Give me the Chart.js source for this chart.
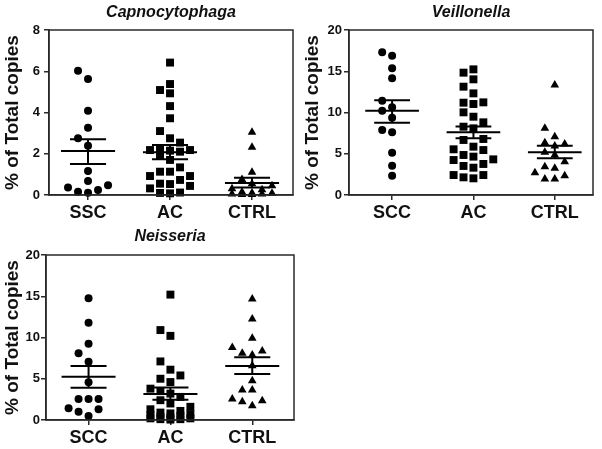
<!DOCTYPE html>
<html><head><meta charset="utf-8">
<script src="https://cdn.jsdelivr.net/npm/chart.js@4.4.1/dist/chart.umd.min.js"></script>
<style>
html,body{margin:0;padding:0;background:#fff;}
body{width:602px;height:449px;position:relative;overflow:hidden;}
canvas{position:absolute;}
</style></head><body>
<canvas id="c1" width="300" height="222" style="left:0;top:0;width:300px;height:222px"></canvas>
<canvas id="c2" width="302" height="222" style="left:300px;top:0;width:302px;height:222px"></canvas>
<canvas id="c3" width="300" height="227" style="left:0;top:222px;width:300px;height:227px"></canvas>
<script>
// ---------- data ----------
const capCats = ["SSC", "AC", "CTRL"];
const veiCats = ["SCC", "AC", "CTRL"];
const neiCats = ["SCC", "AC", "CTRL"];

const capSSC  = [6.03, 5.62, 4.09, 3.26, 2.75, 2.39, 1.16, 0.68, 0.47, 0.24, 0.11, 0.16, 0.36];
const capAC   = [6.42, 5.38, 5.09, 4.93, 4.31, 3.72, 3.10, 2.75, 2.54, 2.18, 2.10, 2.18, 2.15, 2.23, 1.89, 1.70, 1.34, 1.13, 1.13, 0.92, 0.92, 0.73, 0.44, 0.53, 0.55, 0.32, 0.10, 0.08, 0.12];
const capCTRL = [3.04, 2.31, 1.10, 0.75, 0.55, 0.45, 0.30, 0.25, 0.15, 0.10, 0.08, 0.05, 0.05, 0.03, 0.02];
const capMean = [2.13, 2.07, 0.58];
const capSemHi = [2.70, 2.42, 0.84];
const capSemLo = [1.50, 1.73, 0.36];

const veiSCC  = [17.29, 16.89, 15.35, 14.14, 11.43, 10.22, 10.63, 9.37, 7.60, 7.88, 5.13, 3.56, 2.34];
const veiAC   = [15.23, 14.83, 14.02, 13.13, 12.32, 11.23, 11.03, 11.19, 10.02, 9.49, 8.81, 8.08, 8.28, 6.79, 6.67, 5.86, 5.45, 4.65, 4.85, 5.54, 4.32, 4.24, 3.52, 3.31, 3.76, 2.42, 2.14, 2.42, 2.02];
const veiCTRL = [13.33, 8.08, 7.07, 6.34, 6.18, 5.94, 5.17, 4.85, 4.04, 3.23, 3.43, 2.71, 2.34, 1.94, 1.94];
const veiMean = [10.2, 7.6, 5.17];
const veiSemHi = [11.5, 8.3, 5.98];
const veiSemLo = [8.77, 6.87, 4.44];

const neiSCC  = [14.75, 11.80, 9.25, 8.08, 7.07, 4.57, 2.55, 2.55, 2.55, 1.29, 1.01, 1.41, 0.48];
const neiAC   = [15.2, 10.9, 10.2, 7.1, 6.1, 5.4, 5.0, 4.6, 3.8, 3.5, 3.2, 2.8, 2.4, 2.0, 1.6, 1.3, 1.1, 0.9, 0.8, 0.7, 0.6, 0.5, 0.4, 0.3, 0.2, 0.2, 0.1, 0.1, 0.05];
const neiCTRL = [14.67, 12.24, 9.9, 8.36, 8.8, 7.88, 8.1, 6.59, 4.77, 3.64, 3.64, 2.34, 1.74, 2.22, 2.55];
const neiMean = [5.25, 3.15, 6.55];
const neiSemHi = [6.55, 3.94, 7.6];
const neiSemLo = [3.92, 2.45, 5.58];

const yTitle = "% of Total copies";

// ---------- rendering ----------
const FONT = '"Liberation Sans", Arial, sans-serif';
const AX = '#2a2a2a';
const INK = '#111';

function swarm(vals, center, thr, step) {
  const idx = vals.map((v, i) => i).sort((a, b) => vals[a] - vals[b]);
  const placed = [];
  const out = new Array(vals.length);
  const prefs = [0, -1, 1, -2, 2];
  for (const i of idx) {
    const v = vals[i];
    let best = null, bestD = -1;
    for (const s of prefs) {
      const ds = placed.filter(p => p.s === s).map(p => Math.abs(p.v - v));
      const d = ds.length ? Math.min(...ds) : Infinity;
      if (d >= thr) { best = s; break; }
      if (d > bestD + 1e-9) { bestD = d; best = s; }
    }
    placed.push({ s: best, v });
    out[i] = { x: center + best * step, y: v };
  }
  return out;
}

const boxPlugin = {
  id: 'box',
  afterDraw(chart, args, opts) {
    const a = chart.chartArea, ctx = chart.ctx;
    ctx.save();
    ctx.strokeStyle = AX;
    ctx.lineWidth = 1.5;
    ctx.strokeRect(a.left, a.top, a.right - a.left, a.bottom - a.top);
    ctx.fillStyle = INK;
    ctx.font = 'italic bold 16px ' + FONT;
    ctx.textAlign = 'center';
    ctx.textBaseline = 'middle';
    ctx.fillText(opts.text, (a.left + a.right) / 2, a.top + opts.dy);
    ctx.restore();
  }
};

function makePanel(id, title, cats, groups, mean, hi, lo, yMax, step, g) {
  const styles = ['circle', 'rect', 'triangle'];
  const radii = [4, 5.6, 5];
  const thr = yMax * 8.5 / 165;
  const ds = [];
  groups.forEach((vals, k) => {
    ds.push({
      type: 'scatter', data: swarm(vals, k + 1, thr, 0.122),
      pointStyle: styles[k], pointRadius: radii[k],
      backgroundColor: '#000', borderColor: '#000', borderWidth: 0,
      clip: false, order: 2
    });
    const c = k + 1;
    const line = (pts) => ({
      type: 'line', data: pts, borderColor: '#000', borderWidth: 2,
      pointRadius: 0, fill: false, clip: false, order: 1, tension: 0
    });
    ds.push(line([{ x: c - 0.33, y: mean[k] }, { x: c + 0.33, y: mean[k] }]));
    ds.push(line([{ x: c - 0.22, y: hi[k] }, { x: c + 0.22, y: hi[k] }]));
    ds.push(line([{ x: c - 0.22, y: lo[k] }, { x: c + 0.22, y: lo[k] }]));
    ds.push(line([{ x: c, y: lo[k] }, { x: c, y: hi[k] }]));
  });
  new Chart(document.getElementById(id), {
    type: 'scatter',
    data: { datasets: ds },
    plugins: [boxPlugin],
    options: {
      responsive: false, animation: false, events: [],
      layout: { padding: { top: g.top, right: g.right, left: 0, bottom: 0 } },
      plugins: { legend: { display: false }, tooltip: { enabled: false }, box: { text: title, dy: g.dy } },
      scales: {
        x: {
          type: 'linear', min: g.xmin, max: g.xmax,
          afterBuildTicks: s => { s.ticks = [{ value: 1 }, { value: 2 }, { value: 3 }]; },
          afterFit: s => { s.height = g.xh; },
          ticks: { callback: v => cats[Math.round(v) - 1], font: { family: FONT, size: 18, weight: 'bold' }, color: INK, padding: 2, autoSkip: false, maxRotation: 0 },
          grid: { drawOnChartArea: false, tickLength: 5, color: AX, lineWidth: 1.5 },
          border: { color: AX, width: 1.5 }
        },
        y: {
          min: 0, max: yMax,
          afterFit: s => { s.width = g.left; },
          ticks: { stepSize: step, font: { family: FONT, size: 13, weight: 'bold' }, color: INK, padding: g.tp },
          grid: { drawOnChartArea: false, tickLength: 5, color: AX, lineWidth: 1.5 },
          border: { color: AX, width: 1.5 },
          title: { display: true, text: yTitle, font: { family: FONT, size: 19, weight: 'bold' }, color: INK, padding: { top: 1, bottom: 0 } }
        }
      }
    }
  });
}

makePanel('c1', 'Capnocytophaga', capCats, [capSSC, capAC, capCTRL], capMean, capSemHi, capSemLo, 8, 2,
  { top: 30, right: 7, left: 49, xh: 27, xmin: 0.524, xmax: 3.5, dy: -17, tp: 4 });
makePanel('c2', 'Veillonella', veiCats, [veiSCC, veiAC, veiCTRL], veiMean, veiSemHi, veiSemLo, 20, 5,
  { top: 30, right: 9, left: 49, xh: 27, xmin: 0.47, xmax: 3.47, dy: -17, tp: 2 });
makePanel('c3', 'Neisseria', neiCats, [neiSCC, neiAC, neiCTRL], neiMean, neiSemHi, neiSemLo, 20, 5,
  { top: 33, right: 6, left: 46, xh: 29, xmin: 0.48, xmax: 3.51, dy: -18, tp: 1 });
</script>
</body></html>
